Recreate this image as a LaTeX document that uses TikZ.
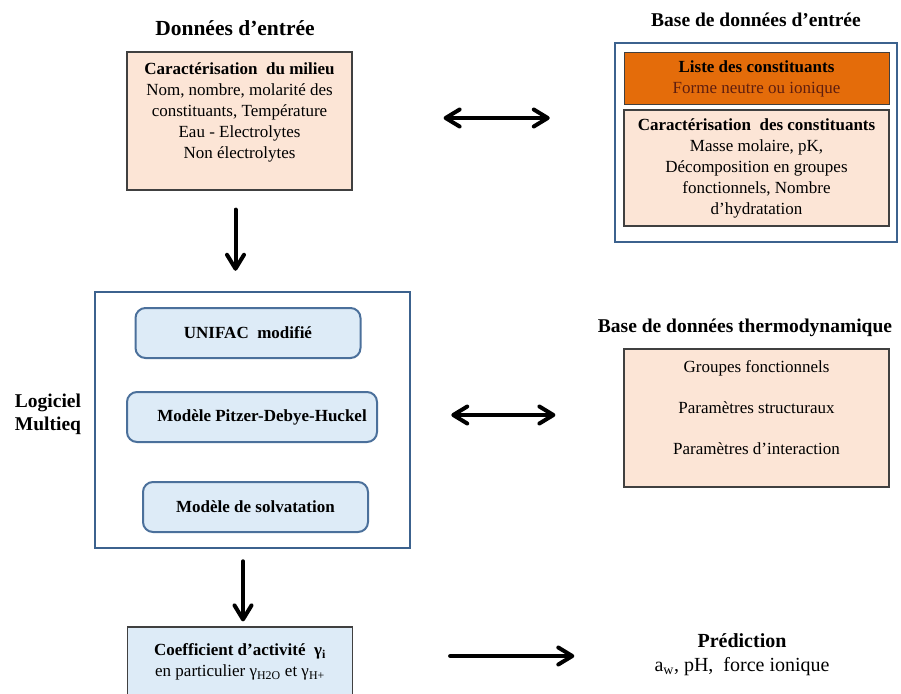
\documentclass[tikz,border=0pt]{standalone}
\usepackage{fontspec}
\setmainfont{Liberation Serif}
\usetikzlibrary{arrows.meta}
\definecolor{peach}{RGB}{252,229,214}
\definecolor{orangebox}{RGB}{228,108,10}
\definecolor{brownred}{RGB}{95,30,15}
\definecolor{paleblue}{RGB}{221,235,247}
\definecolor{frameblue}{RGB}{60,98,142}
\definecolor{modelblue}{RGB}{75,112,155}
\definecolor{edgegray}{RGB}{64,64,64}

\begin{document}
\begin{tikzpicture}
  [x=1pt,y=-1pt,
   every node/.style={font=\fontsize{17}{21}\selectfont,align=center,inner sep=0pt},
   heading/.style={font=\fontsize{19.5}{23}\selectfont\bfseries},
   databox/.style={draw=edgegray,line width=1.2pt,fill=peach},
   framebox/.style={draw=frameblue,line width=2.5pt},
   modelbox/.style={draw=modelblue,line width=2pt,fill=paleblue,rounded corners=10pt,
     minimum width=225pt,minimum height=50pt,font=\fontsize{17}{21}\selectfont\bfseries},
   bigarrow/.style={line width=4pt,line cap=round},
   >={Straight Barb[length=14pt,width=17pt,round]}]
  \useasboundingbox (0,0) rectangle (901,693);
  \clip (0,0) rectangle (901,693);

  % donnees d'entree
  \node[heading,font=\fontsize{21.5}{25}\selectfont\bfseries] (titin) at (235,28) {Données d’entrée};
  \node[databox,minimum width=225pt,minimum height=138pt] (milieu) at (239.5,121)
    {\textbf{Caractérisation\ \ du milieu}\\Nom, nombre, molarité des\\constituants,\ Température\\Eau - Electrolytes\\Non électrolytes\\\mbox{}};

  % base de donnees d'entree
  \node[heading] (titbase) at (756,20) {Base de données d’entrée};
  \node[framebox,minimum width=282pt,minimum height=199pt] (dbframe) at (756,142.5) {};
  \node[fill=orangebox,draw=edgegray,line width=1pt,minimum width=265pt,minimum height=51pt] (liste) at (756.5,78.5)
    {\textbf{Liste des constituants}\\\textcolor{brownred}{Forme neutre ou ionique}};
  \node[databox,minimum width=265pt,minimum height=116pt] (carac) at (756.5,168)
    {\textbf{Caractérisation\ \ des constituants}\\Masse molaire, pK,\\Décomposition en groupes\\fonctionnels, Nombre\\d’hydratation};

  % logiciel
  \node[heading] (logiciel) at (48,414) {Logiciel\\Multieq};
  \node[framebox,minimum width=315pt,minimum height=256pt] (multieq) at (252.5,420) {};
  \node[modelbox] (unifac) at (248,333) {UNIFAC\ \ modifié};
  \node[modelbox,minimum width=250pt] (pitzer) at (252,417) {\hspace*{20pt}Modèle Pitzer-Debye-Huckel};
  \node[modelbox] (solv) at (255.5,507) {Modèle de solvatation};

  % base thermodynamique
  \node[heading] (tithermo) at (745,328) {Base de données thermodynamique};
  \node[databox,minimum width=265pt,minimum height=138pt] (thermo) at (756.5,418)
    {Groupes fonctionnels\\[20pt]Paramètres structuraux\\[20pt]Paramètres d’interaction\\\mbox{}};

  % sorties
  \node[draw=edgegray,line width=1.2pt,fill=paleblue,minimum width=225pt,minimum height=70pt] (coef) at (240,662)
    {\textbf{Coefficient d’activité\ \ γ\textsubscript{i}}\\en particulier γ\textsubscript{H2O} et γ\textsubscript{H+}};
  \node[font=\fontsize{20}{24}\selectfont] (pred) at (742,655)
    {\textbf{Prédiction}\\a\textsubscript{w}, pH,\ \ force ionique};

  \draw[bigarrow,<->,shorten <=91pt,shorten >=64pt] ([yshift=3pt]milieu.east) -- ([yshift=3pt]milieu.east -| dbframe.west);
  \draw[bigarrow,->,shorten <=19pt,shorten >=20pt] ([xshift=-4pt]milieu.south) -- ([xshift=-4pt]milieu.south |- multieq.north);
  \draw[bigarrow,<->,shorten <=40pt,shorten >=68pt] ([yshift=5pt]multieq.east) -- ([yshift=5pt]multieq.east -| thermo.west);
  \draw[bigarrow,->,shorten <=12pt,shorten >=5pt] ([xshift=3pt]coef.north |- multieq.south) -- ([xshift=3pt]coef.north);
  \draw[bigarrow,->,shorten <=97pt,shorten >=80pt] ([yshift=6pt]coef.east) -- ([yshift=6pt]coef.east -| pred.west);
\end{tikzpicture}
\end{document}
